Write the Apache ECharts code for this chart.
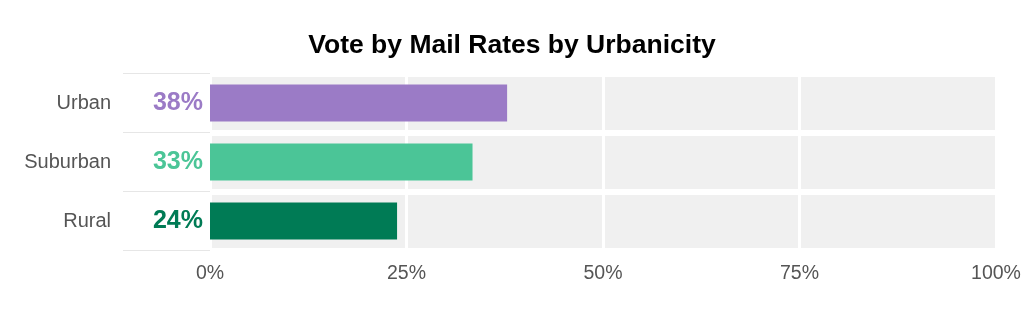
<!DOCTYPE html>
<html><head><meta charset="utf-8">
<script src="https://cdn.jsdelivr.net/npm/echarts@6/dist/echarts.min.js"></script>
<style>html,body{margin:0;padding:0;background:#fff}#c{width:1024px;height:318px}</style>
</head><body><div id="c"></div>
<script>
const categories = ['Urban', 'Suburban', 'Rural'];
const values = [37.8, 33.4, 23.8];
const colors = ['#9b7bc6', '#4bc597', '#007b55'];
const xTicks = [0, 25, 50, 75, 100];

const chart = echarts.init(document.getElementById('c'), null, {renderer: 'canvas'});
chart.setOption({
  backgroundColor: '#fff',
  animation: false,
  title: {
    text: 'Vote by Mail Rates by Urbanicity',
    left: 'center', top: 27,
    textStyle: {fontFamily: 'Liberation Sans, Arial', fontSize: 26.5, fontWeight: 'bold', color: '#000'}
  },
  grid: {left: 210, right: 28, top: 73.5, height: 177, show: true, backgroundColor: '#f0f0f0', borderWidth: 0},
  xAxis: {
    type: 'value', min: xTicks[0], max: xTicks[xTicks.length - 1], interval: 25,
    axisLine: {show: false}, axisTick: {show: false},
    axisLabel: {formatter: v => v + '%', fontFamily: 'Liberation Sans, Arial', fontSize: 19.5, color: '#555', margin: 13},
    splitLine: {show: true, lineStyle: {color: '#fff', width: 3}}
  },
  yAxis: {
    type: 'category', data: categories, inverse: true,
    axisLine: {show: false},
    axisTick: {show: true, length: 87, interval: (i) => i < 3, lineStyle: {color: '#e6e6e6', width: 1}},
    axisLabel: {fontFamily: 'Liberation Sans, Arial', fontSize: 20, color: '#555', margin: 99},
    splitLine: {show: true, lineStyle: {color: '#fff', width: 6}}
  },
  series: [{
    type: 'bar', barWidth: 37,
    data: values.map((v, i) => ({value: v, itemStyle: {color: colors[i]},
      label: {color: colors[i]}})),
    label: {show: true, position: 'left', distance: 7, formatter: p => Math.round(p.value) + '%',
      fontFamily: 'Liberation Sans, Arial', fontSize: 25, fontWeight: 'bold'}
  }]
});
</script></body></html>
